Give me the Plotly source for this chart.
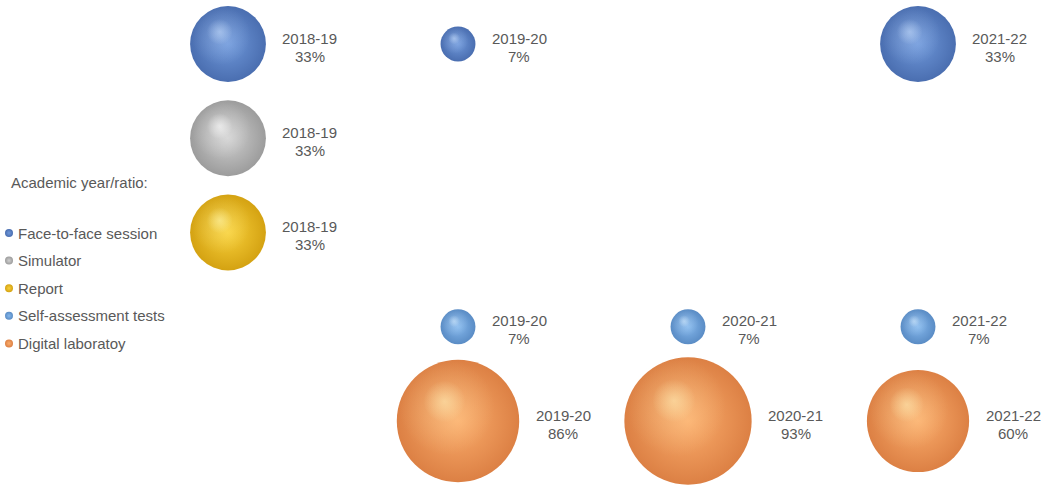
import math
import plotly.graph_objects as go

# ---------------- data ----------------
years = ["2018-19", "2019-20", "2020-21", "2021-22"]
methods = ["Face-to-face session", "Simulator", "Report",
           "Self-assessment tests", "Digital laboratoy"]
face_to_face = [33, 7, None, 33]
simulator = [33, None, None, None]
report = [33, None, None, None]
self_assessment = [None, 7, 7, 7]
digital_lab = [None, 86, 93, 60]
legend_title = "Academic year/ratio:"

# ---------------- styles ----------------
W, H = 1047, 486
COL_PX0, COL_STEP = 228, 230
ROW_PX0, ROW_STEP = 44, 94.25
DIAM_K = 13.2                       # diameter px = DIAM_K * sqrt(value)
SIZEREF = 2.0 / DIAM_K ** 2         # plotly area sizemode
FONT = "Liberation Sans, Arial, sans-serif"
TXT = "#595959"

styles = {
    "Face-to-face session": dict(body="#6f98da", edge="#4a6eb0", hi=(195, 218, 250)),
    "Simulator": dict(body="#cfcfcf", edge="#9c9c9c", hi=(255, 255, 255)),
    "Report": dict(body="#f8d03a", edge="#d4a212", hi=(255, 246, 170)),
    "Self-assessment tests": dict(body="#84b7ec", edge="#5a8cc5", hi=(212, 234, 253)),
    "Digital laboratoy": dict(body="#fbad6c", edge="#dc8044", hi=(255, 236, 180)),
}
series_values = [face_to_face, simulator, report, self_assessment, digital_lab]


def px_to_x(px):
    return (px - COL_PX0) / COL_STEP


def px_to_y(py):
    return (py - ROW_PX0) / ROW_STEP


fig = go.Figure()
annotations = []
label_font = dict(family=FONT, size=15, color=TXT)

for row, (name, vals) in enumerate(zip(methods, series_values)):
    st = styles[name]
    xs = [i for i, v in enumerate(vals) if v is not None]
    vs = [v for v in vals if v is not None]
    ys = [row] * len(xs)
    diams = [DIAM_K * math.sqrt(v) for v in vs]
    # base sphere
    fig.add_trace(go.Scatter(
        x=xs, y=ys, mode="markers", name=name, showlegend=False,
        hovertext=[f"{name}<br>{years[x]}: {v}%" for x, v in zip(xs, vs)],
        hoverinfo="text",
        marker=dict(size=vs, sizemode="area", sizeref=SIZEREF,
                    color=st["edge"],
                    gradient=dict(type="radial", color=st["body"]),
                    line=dict(width=0), opacity=1)))
    r, g, b = st["hi"]
    # soft and bright highlight layers (offset up-left in pixels)
    for k, offx, offy, alpha in [(0.78, -0.09, -0.11, 0.4), (0.34, -0.11, -0.16, 0.8)]:
        fig.add_trace(go.Scatter(
            x=[x + offx * d / COL_STEP for x, d in zip(xs, diams)],
            y=[y + offy * d / ROW_STEP for y, d in zip(ys, diams)],
            mode="markers", showlegend=False, hoverinfo="skip",
            marker=dict(size=[v * k * k for v in vs], sizemode="area", sizeref=SIZEREF,
                        color=f"rgba({r},{g},{b},0)",
                        gradient=dict(type="radial", color=f"rgba({r},{g},{b},{alpha})"),
                        line=dict(width=0))))
    # data labels (two centred lines to the right of each sphere)
    for x, y, v, d in zip(xs, ys, vs, diams):
        for txt, ysh in [(years[x], 6), (f"{v}%", -12)]:
            annotations.append(dict(
                x=x, y=y, xref="x", yref="y", xanchor="center", yanchor="middle",
                xshift=d / 2 + 44, yshift=ysh, text=txt,
                showarrow=False, font=label_font))

# ---------------- legend (drawn manually) ----------------
LEG_MARK_PX, LEG_TEXT_PX = 9, 16
LEG_Y0, LEG_STEP = 233, 27.6
leg_y = [px_to_y(LEG_Y0 + i * LEG_STEP) for i in range(len(methods))]
for i, name in enumerate(methods):
    st = styles[name]
    fig.add_trace(go.Scatter(
        x=[px_to_x(LEG_MARK_PX)], y=[leg_y[i]], mode="markers", showlegend=False,
        hoverinfo="skip",
        marker=dict(size=8, color=st["edge"],
                    gradient=dict(type="radial", color=st["body"]),
                    line=dict(width=0))))
    annotations.append(dict(
        x=px_to_x(LEG_TEXT_PX), y=leg_y[i], xref="x", yref="y",
        xanchor="left", yanchor="middle", text=name, showarrow=False,
        font=label_font))
annotations.append(dict(
    x=px_to_x(9), y=px_to_y(182.5), xref="x", yref="y",
    xanchor="left", yanchor="middle", text=legend_title, showarrow=False,
    font=label_font))

fig.update_layout(
    width=W, height=H, margin=dict(l=0, r=0, t=0, b=0),
    paper_bgcolor="white", plot_bgcolor="white",
    showlegend=False, annotations=annotations,
    xaxis=dict(range=[px_to_x(0), px_to_x(W)], visible=False, fixedrange=True),
    yaxis=dict(range=[px_to_y(H), px_to_y(0)], visible=False, fixedrange=True),
)

fig.write_html("out.html",
               config={"displayModeBar": False},
               post_script="document.body.style.margin='0px';document.body.style.overflow='hidden';")
